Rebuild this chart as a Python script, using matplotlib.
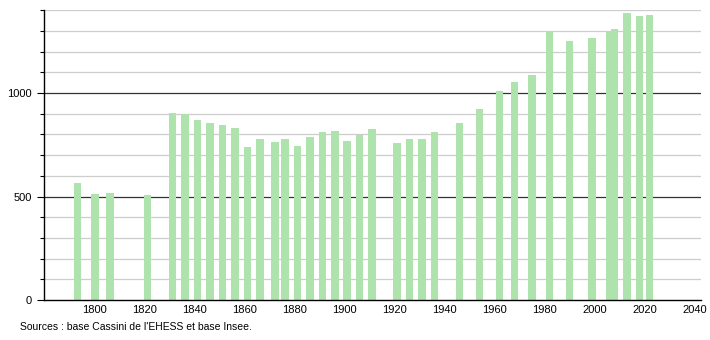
import matplotlib
matplotlib.use("Agg")
import matplotlib.pyplot as plt
from matplotlib.ticker import MultipleLocator, FixedLocator

plt.rcParams['font.family'] = ['Liberation Sans', 'DejaVu Sans']

years = [1793, 1800, 1806, 1821, 1831, 1836, 1841, 1846, 1851, 1856,
         1861, 1866, 1872, 1876, 1881, 1886, 1891, 1896, 1901, 1906,
         1911, 1921, 1926, 1931, 1936, 1946, 1954, 1962, 1968, 1975,
         1982, 1990, 1999, 2006, 2008, 2013, 2018, 2022]
population = [564, 513, 519, 508, 903, 898, 871, 856, 847, 832,
              737, 777, 764, 777, 745, 789, 813, 816, 769, 795,
              826, 758, 777, 776, 810, 855, 924, 1008, 1055, 1089,
              1297, 1253, 1268, 1298, 1310, 1386, 1374, 1379]
x_ticks = [1800, 1820, 1840, 1860, 1880, 1900, 1920, 1940, 1960, 1980, 2000, 2020, 2040]
y_major = [0, 500, 1000]
source_text = "Sources : base Cassini de l'EHESS et base Insee."

fig = plt.figure(figsize=(7.1, 3.4), dpi=100)
ax = fig.add_axes([44/710, 1 - 300/340, (700.7 - 44)/710, (300 - 10.3)/340])

ax.set_xlim(1779.6, 2042.5)
ax.set_ylim(0, 1400)

# grid lines
for v in range(100, 1401, 100):
    if v in y_major:
        ax.axhline(v, color='#333333', lw=0.9, zorder=1)
    else:
        ax.axhline(v, color='#cdcdcd', lw=0.9, zorder=1)

ax.bar(years, population, width=3.0, color='#aee3ae', zorder=2, linewidth=0)

for s in ['top', 'right']:
    ax.spines[s].set_visible(False)
ax.spines['left'].set_color('black')
ax.spines['bottom'].set_color('black')
ax.spines['left'].set_linewidth(1.0)
ax.spines['bottom'].set_linewidth(1.0)

ax.yaxis.set_major_locator(FixedLocator(y_major))
ax.yaxis.set_minor_locator(MultipleLocator(100))
ax.tick_params(axis='y', which='major', length=5, width=0.8, labelsize=8, pad=4, colors='black')
ax.tick_params(axis='y', which='minor', length=3, width=0.8)
ax.set_yticklabels([str(v) for v in y_major])

ax.set_xticks(x_ticks)
ax.set_xticklabels([str(v) for v in x_ticks])
ax.tick_params(axis='x', which='major', length=0, labelsize=8, pad=3.5)

fig.text(20/710, 1 - 327/340, source_text, fontsize=7.5, va='center', ha='left')

fig.savefig('out.png', dpi=100)
